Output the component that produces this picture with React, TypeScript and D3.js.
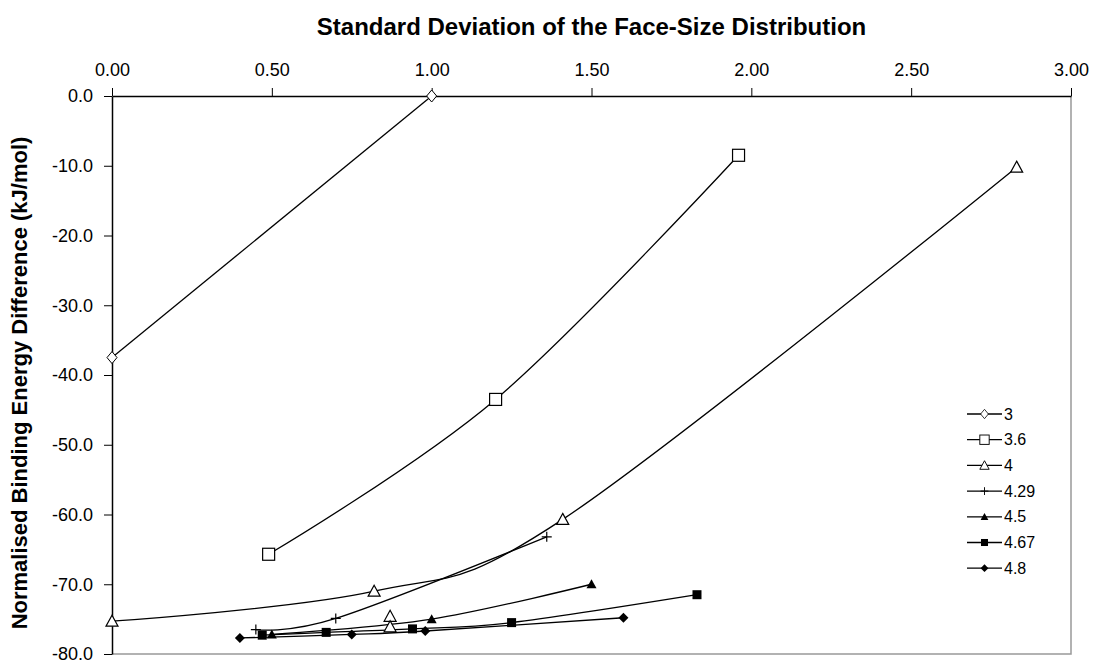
import React, { useRef, useEffect } from 'react';
import * as d3 from 'd3';

// x = std dev of face-size distribution, y = normalised binding energy difference
const sd3 = [0.0, 1.0];
const en3 = [-37.5, 0.0];
const sd36 = [0.49, 1.2, 1.96];
const en36 = [-65.7, -43.5, -8.5];
const sd4 = [0.0, 0.82, 1.41, 2.83];
const en4 = [-75.3, -71.0, -60.7, -10.2];
const sd4Extra = [0.87, 0.87];
const en4Extra = [-74.6, -76.1];
const sd429 = [0.45, 0.7, 1.36];
const en429 = [-76.5, -74.9, -63.2];
const sd45 = [0.5, 1.0, 1.5];
const en45 = [-77.2, -75.0, -70.0];
const sd467 = [0.47, 0.67, 0.94, 1.25, 1.83];
const en467 = [-77.3, -76.9, -76.4, -75.5, -71.5];
const sd48 = [0.4, 0.75, 0.98, 1.6];
const en48 = [-77.7, -77.2, -76.7, -74.8];

const legendLabels = ['3', '3.6', '4', '4.29', '4.5', '4.67', '4.8'];
const markerTypes = ['diamondOpen', 'squareOpen', 'triangleOpen', 'plus', 'triangle', 'square', 'diamond'];
const xTicks = [0, 0.5, 1, 1.5, 2, 2.5, 3];
const yTicks = [0, -10, -20, -30, -40, -50, -60, -70, -80];

const allSeries = [
  { xs: sd3, ys: en3 },
  { xs: sd36, ys: en36 },
  { xs: sd4, ys: en4 },
  { xs: sd429, ys: en429 },
  { xs: sd45, ys: en45 },
  { xs: sd467, ys: en467 },
  { xs: sd48, ys: en48 },
];

const drawMarker = (g, type, cx, cy, k = 1) => {
  const m = g.append('g').attr('transform', `translate(${cx},${cy}) scale(${k})`);
  if (type === 'diamondOpen') {
    m.append('path').attr('d', 'M0,-6L5,0L0,6L-5,0Z').attr('fill', 'white').attr('stroke', 'black').attr('stroke-width', 1);
  } else if (type === 'squareOpen') {
    m.append('rect').attr('x', -6).attr('y', -6).attr('width', 12).attr('height', 12).attr('fill', 'white').attr('stroke', 'black').attr('stroke-width', 1.2);
  } else if (type === 'triangleOpen') {
    m.append('path').attr('d', 'M0,-6L6,5L-6,5Z').attr('fill', 'white').attr('stroke', 'black').attr('stroke-width', 1.2);
  } else if (type === 'plus') {
    m.append('path').attr('d', 'M-5,0H5M0,-5V5').attr('stroke', 'black').attr('stroke-width', 1.2);
  } else if (type === 'triangle') {
    m.append('path').attr('d', 'M0,-5L5,4L-5,4Z').attr('fill', 'black');
  } else if (type === 'square') {
    m.append('rect').attr('x', -4.5).attr('y', -4.5).attr('width', 9).attr('height', 9).attr('fill', 'black');
  } else if (type === 'diamond') {
    m.append('path').attr('d', 'M0,-5L5,0L0,5L-5,0Z').attr('fill', 'black');
  }
};

const App = () => {
  const svgRef = useRef(null);

  useEffect(() => {
    document.body.style.margin = '0';
    const svg = d3.select(svgRef.current);
    svg.selectAll('*').remove();
    const width = 1095;
    const height = 664;
    const margin = { top: 96, right: 24, bottom: 10, left: 112 };
    const font = 'Liberation Sans, Arial, sans-serif';
    const fmtX = d3.format('.2f');
    const fmtY = v => d3.format('.1f')(v).replace('\u2212', '-');

    svg.attr('width', width).attr('height', height).style('font-family', font).style('display', 'block');

    const x = d3.scaleLinear().domain([0, 3]).range([margin.left, width - margin.right]);
    const y = d3.scaleLinear().domain([-80, 0]).range([height - margin.bottom, margin.top]);

    // plot border (grey right / bottom)
    svg.append('path')
      .attr('d', `M${x(3)},${y(0)}V${y(-80)}H${x(0)}`)
      .attr('fill', 'none').attr('stroke', '#999').attr('stroke-width', 1.5);

    const xAxis = g => g
      .attr('transform', `translate(0,${y(0)})`)
      .call(d3.axisTop(x).tickValues(xTicks).tickFormat(fmtX).tickSize(8).tickSizeOuter(0).tickPadding(12))
      .call(g => g.selectAll('text').attr('font-size', 18).attr('font-family', font).attr('fill', 'black'))
      .call(g => g.select('.domain').attr('stroke-width', 1.5));

    const yAxis = g => g
      .attr('transform', `translate(${x(0)},0)`)
      .call(d3.axisLeft(y).tickValues(yTicks).tickFormat(fmtY).tickSize(8).tickSizeOuter(0).tickPadding(11))
      .call(g => g.selectAll('text').attr('font-size', 18).attr('font-family', font).attr('fill', 'black'))
      .call(g => g.select('.domain').attr('stroke-width', 1.5));

    svg.append('g').call(xAxis);
    svg.append('g').call(yAxis);

    svg.append('text')
      .attr('x', (x(0) + x(3)) / 2).attr('y', 35)
      .attr('text-anchor', 'middle').attr('font-weight', 'bold').attr('font-size', 24)
      .text('Standard Deviation of the Face-Size Distribution');

    svg.append('text')
      .attr('transform', `translate(27,${(y(0) + y(-80)) / 2 + 8}) rotate(-90)`)
      .attr('text-anchor', 'middle').attr('font-weight', 'bold').attr('font-size', 22)
      .text('Normalised Binding Energy Difference (kJ/mol)');

    const line = d3.line()
      .x(d => x(d[0]))
      .y(d => y(d[1]))
      .curve(d3.curveCardinal.tension(0));

    const lines = svg.append('g');
    allSeries.forEach(s => {
      lines.append('path')
        .datum(s.xs.map((v, i) => [v, s.ys[i]]))
        .attr('d', line)
        .attr('fill', 'none').attr('stroke', 'black').attr('stroke-width', 1.3);
    });

    const marks = svg.append('g');
    allSeries.forEach((s, k) => {
      s.xs.forEach((v, i) => drawMarker(marks, markerTypes[k], x(v), y(s.ys[i])));
    });
    sd4Extra.forEach((v, i) => drawMarker(marks, 'triangleOpen', x(v), y(en4Extra[i])));

    // legend
    const legend = svg.append('g').attr('transform', 'translate(967,414)');
    legendLabels.forEach((lab, i) => {
      const row = legend.append('g').attr('transform', `translate(0,${i * 25.7})`);
      row.append('line').attr('x1', 0).attr('x2', 35).attr('y1', 0).attr('y2', 0)
        .attr('stroke', 'black').attr('stroke-width', 1.3);
      drawMarker(row, markerTypes[i], 17.5, 0, 0.78);
      row.append('text').attr('x', 37).attr('y', 0).attr('dy', '0.35em')
        .attr('font-size', 16).text(lab);
    });
  }, []);

  return <svg ref={svgRef}></svg>;
};

export default App;
